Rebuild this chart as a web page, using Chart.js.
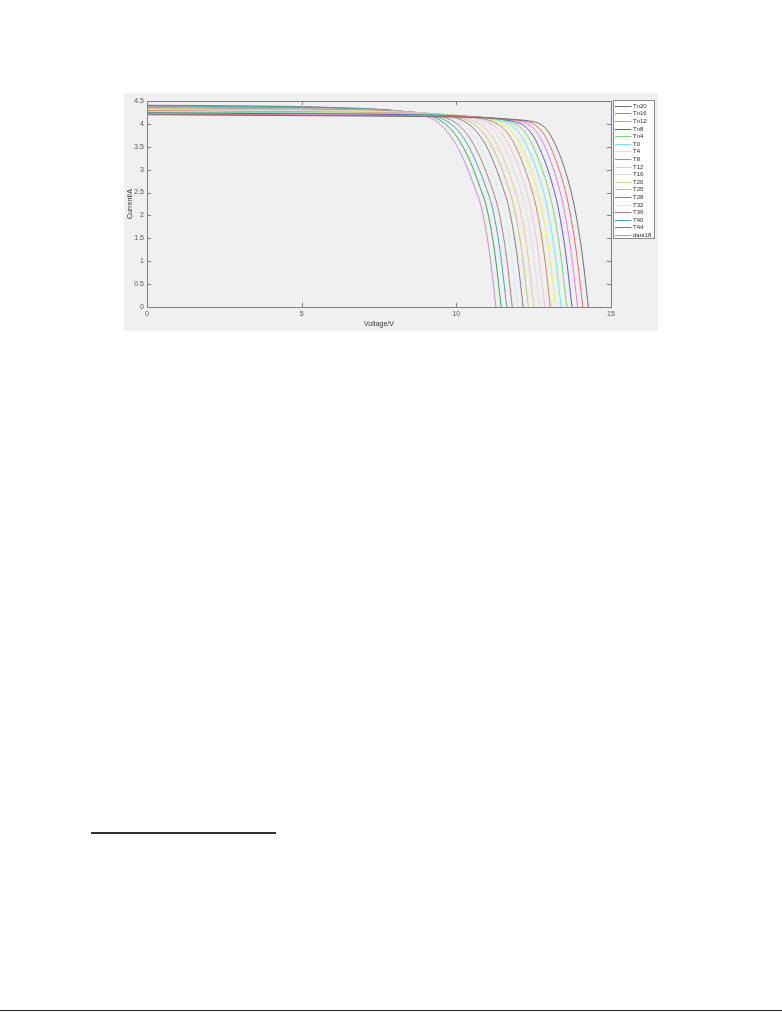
<!DOCTYPE html>
<html><head><meta charset="utf-8">
<script src="https://cdn.jsdelivr.net/npm/chart.js@4/dist/chart.umd.min.js"></script>
<style>
html,body{margin:0;padding:0;background:#fff;}
body{width:782px;height:1012px;position:relative;overflow:hidden;}
#fig{position:absolute;left:124px;top:93px;width:534px;height:238px;background:#f0f0f0;}
#fig canvas{display:block;}
#fn{position:absolute;left:91px;top:832px;width:185px;height:0;border-top:2px solid #333;}
#pb{position:absolute;left:0;top:1010px;width:782px;height:0;border-top:1px solid #222;}
</style></head><body>
<div id="fig"><canvas id="c" width="534" height="238"></canvas></div>
<div id="fn"></div>
<div id="pb"></div>
<script>
// Series labels (legend order)
const seriesLabels = ["Tn20","Tn16","Tn12","Tn8","Tn4","T0","T4","T8","T12","T16","T20","T25","T28","T32","T36","T40","T44","data18"];
const seriesColors = ["#6f6f6f","#e86a6a","#e67ae6","#5c5cc4","#72d872","#6fe6ee","#eeee5a","#c08a64","#f2bcd6","#dcdcdc","#e8c496","#c4c27a","#8e7490","#cdeef0","#b07c7c","#4aa3ae","#3f9f52","#c08ed0"];

// [Voltage, Current] pairs
const sTn20 = [[0,4.20],[5,4.18],[9,4.16],[11,4.13],[12,4.09],[12.4,4.06],[12.7,4.00],[12.95,3.85],[13.15,3.62],[13.4,3.22],[13.6,2.80],[13.8,2.25],[14.05,1.25],[14.27,0]];
const sTn16 = [[0,4.21],[5,4.19],[8.82,4.17],[10.82,4.14],[11.82,4.09],[12.22,4.06],[12.52,3.99],[12.77,3.83],[12.97,3.60],[13.22,3.20],[13.42,2.79],[13.62,2.25],[13.87,1.25],[14.09,0]];
const sTn12 = [[0,4.22],[5,4.20],[8.65,4.18],[10.65,4.15],[11.65,4.10],[12.05,4.06],[12.35,3.98],[12.6,3.82],[12.8,3.59],[13.05,3.19],[13.25,2.77],[13.45,2.24],[13.7,1.25],[13.92,0]];
const sTn8  = [[0,4.24],[5,4.22],[8.47,4.20],[10.47,4.16],[11.47,4.10],[11.87,4.05],[12.17,3.97],[12.42,3.80],[12.62,3.57],[12.87,3.17],[13.07,2.76],[13.27,2.24],[13.52,1.25],[13.74,0]];
const sTn4  = [[0,4.25],[5,4.23],[8.3,4.21],[10.3,4.17],[11.3,4.11],[11.7,4.05],[12.0,3.96],[12.25,3.79],[12.45,3.55],[12.7,3.15],[12.9,2.75],[13.1,2.23],[13.35,1.25],[13.57,0]];
const sT0   = [[0,4.26],[5,4.24],[8.12,4.22],[10.12,4.18],[11.12,4.11],[11.52,4.05],[11.82,3.95],[12.07,3.77],[12.27,3.53],[12.52,3.14],[12.72,2.74],[12.92,2.23],[13.17,1.25],[13.39,0]];
const sT4   = [[0,4.27],[5,4.25],[7.94,4.23],[9.94,4.19],[10.94,4.12],[11.34,4.05],[11.64,3.94],[11.89,3.75],[12.09,3.52],[12.34,3.12],[12.54,2.72],[12.74,2.22],[12.99,1.25],[13.21,0]];
const sT8   = [[0,4.29],[5,4.26],[7.77,4.24],[9.77,4.20],[10.77,4.12],[11.17,4.05],[11.47,3.93],[11.72,3.74],[11.92,3.50],[12.17,3.10],[12.37,2.71],[12.57,2.22],[12.82,1.25],[13.04,0]];
const sT12  = [[0,4.30],[5,4.27],[7.59,4.25],[9.59,4.21],[10.59,4.13],[10.99,4.05],[11.29,3.92],[11.54,3.72],[11.74,3.48],[11.99,3.09],[12.19,2.70],[12.39,2.21],[12.64,1.25],[12.86,0]];
const sT16  = [[0,4.31],[5,4.29],[7.42,4.27],[9.42,4.21],[10.42,4.13],[10.82,4.04],[11.12,3.91],[11.37,3.71],[11.57,3.47],[11.82,3.07],[12.02,2.68],[12.22,2.21],[12.47,1.25],[12.69,0]];
const sT20  = [[0,4.32],[5,4.30],[7.24,4.28],[9.24,4.22],[10.24,4.14],[10.64,4.04],[10.94,3.90],[11.19,3.69],[11.39,3.45],[11.64,3.06],[11.84,2.67],[12.04,2.20],[12.29,1.25],[12.51,0]];
const sT25  = [[0,4.34],[5,4.31],[7.06,4.29],[9.06,4.23],[10.06,4.14],[10.46,4.04],[10.76,3.89],[11.01,3.68],[11.21,3.43],[11.46,3.04],[11.66,2.66],[11.86,2.20],[12.11,1.25],[12.33,0]];
const sT28  = [[0,4.35],[5,4.32],[6.89,4.30],[8.89,4.24],[9.89,4.15],[10.29,4.04],[10.59,3.88],[10.84,3.66],[11.04,3.42],[11.29,3.02],[11.49,2.64],[11.69,2.19],[11.94,1.25],[12.16,0]];
const sT32  = [[0,4.36],[5,4.33],[6.71,4.31],[8.71,4.25],[9.71,4.15],[10.11,4.04],[10.41,3.87],[10.66,3.64],[10.86,3.40],[11.11,3.01],[11.31,2.63],[11.51,2.19],[11.76,1.25],[11.98,0]];
const sT36  = [[0,4.37],[5,4.34],[6.54,4.32],[8.54,4.26],[9.54,4.16],[9.94,4.04],[10.24,3.86],[10.49,3.63],[10.69,3.38],[10.94,2.99],[11.14,2.62],[11.34,2.18],[11.59,1.25],[11.81,0]];
const sT40  = [[0,4.39],[5,4.36],[6.36,4.34],[8.36,4.27],[9.36,4.16],[9.76,4.03],[10.06,3.85],[10.31,3.61],[10.51,3.36],[10.76,2.97],[10.96,2.61],[11.16,2.18],[11.41,1.25],[11.63,0]];
const sT44  = [[0,4.40],[5,4.37],[6.18,4.35],[8.18,4.28],[9.18,4.17],[9.58,4.03],[9.88,3.84],[10.13,3.60],[10.33,3.35],[10.58,2.96],[10.78,2.59],[10.98,2.17],[11.23,1.25],[11.45,0]];
const sData18 = [[0,4.41],[5,4.38],[6.01,4.36],[8.01,4.29],[9.01,4.17],[9.41,4.03],[9.71,3.83],[9.96,3.58],[10.16,3.33],[10.41,2.94],[10.61,2.58],[10.81,2.17],[11.06,1.25],[11.28,0]];

const seriesData = [sTn20,sTn16,sTn12,sTn8,sTn4,sT0,sT4,sT8,sT12,sT16,sT20,sT25,sT28,sT32,sT36,sT40,sT44,sData18];

// Axis ranges / ticks
const xMin = 0, xMax = 15, xStep = 5;
const yMin = 0, yMax = 4.5, yStep = 0.5;

const FONT = "'Liberation Sans', Arial, sans-serif";

const datasets = seriesData.map((s, i) => ({
  label: seriesLabels[i],
  data: s.map(p => ({x: p[0], y: p[1]})),
  borderColor: seriesColors[i],
  backgroundColor: seriesColors[i],
  borderWidth: 1,
  pointRadius: 0,
  showLine: true,
  fill: false,
  cubicInterpolationMode: 'monotone'
}));

const framePlugin = {
  id: 'frame',
  afterDraw(chart) {
    const ctx = chart.ctx, a = chart.chartArea;
    const xs = chart.scales.x, ys = chart.scales.y;
    ctx.save();
    ctx.strokeStyle = '#7f7f7f';
    ctx.lineWidth = 1;
    ctx.strokeRect(Math.round(a.left) + 0.5, Math.round(a.top) + 0.5, Math.round(a.right - a.left), Math.round(a.bottom - a.top));
    ctx.beginPath();
    const tl = 4;
    for (let v = xMin; v <= xMax + 1e-9; v += xStep) {
      const px = Math.round(xs.getPixelForValue(v)) + 0.5;
      ctx.moveTo(px, a.bottom); ctx.lineTo(px, a.bottom - tl);
      ctx.moveTo(px, a.top); ctx.lineTo(px, a.top + tl);
    }
    for (let v = yMin; v <= yMax + 1e-9; v += yStep) {
      const py = Math.round(ys.getPixelForValue(v)) + 0.5;
      ctx.moveTo(a.left, py); ctx.lineTo(a.left + tl, py);
      ctx.moveTo(a.right, py); ctx.lineTo(a.right - tl, py);
    }
    ctx.stroke();

    // legend box
    const bx = 489, by = 7, bw = 41, bh = 138;
    ctx.fillStyle = '#ffffff';
    ctx.fillRect(bx, by, bw, bh);
    ctx.strokeStyle = '#8a8a8a';
    ctx.strokeRect(bx + 0.5, by + 0.5, bw, bh);
    ctx.font = '6px ' + FONT;
    ctx.textBaseline = 'middle';
    ctx.textAlign = 'left';
    chart.data.datasets.forEach((d, i) => {
      const y = Math.round(by + 5.7 + i * 7.6) + 0.5;
      ctx.strokeStyle = d.borderColor;
      ctx.lineWidth = 1;
      ctx.beginPath();
      ctx.moveTo(bx + 2, y); ctx.lineTo(bx + 18.5, y);
      ctx.stroke();
      ctx.fillStyle = '#333';
      ctx.fillText(d.label, bx + 20, y);
    });
    ctx.restore();
  }
};

const fmt = v => String(Math.round(v * 100) / 100);

new Chart(document.getElementById('c'), {
  type: 'scatter',
  data: { datasets },
  options: {
    responsive: false,
    animation: false,
    devicePixelRatio: 1,
    layout: { padding: { left: 0, top: 8, right: 47, bottom: 0 } },
    plugins: { legend: { display: false }, tooltip: { enabled: false } },
    scales: {
      x: {
        type: 'linear', min: xMin, max: xMax,
        ticks: { stepSize: xStep, font: { size: 7, family: FONT }, color: '#555', padding: 3, maxRotation: 0, callback: fmt },
        grid: { display: false, drawTicks: false },
        border: { display: false },
        title: { display: true, text: 'Voltage/V', font: { size: 7, family: FONT }, color: '#333', padding: { top: 1, bottom: 3 } },
        afterFit(s) { s.height = 24; }
      },
      y: {
        type: 'linear', min: yMin, max: yMax,
        ticks: { stepSize: yStep, font: { size: 7, family: FONT }, color: '#555', padding: 3, callback: fmt },
        grid: { display: false, drawTicks: false },
        border: { display: false },
        title: { display: true, text: 'Current/A', font: { size: 7, family: FONT }, color: '#333', padding: { top: 2, bottom: 0 } },
        afterFit(s) { s.width = 23; }
      }
    }
  },
  plugins: [framePlugin]
});
</script>
</body></html>
